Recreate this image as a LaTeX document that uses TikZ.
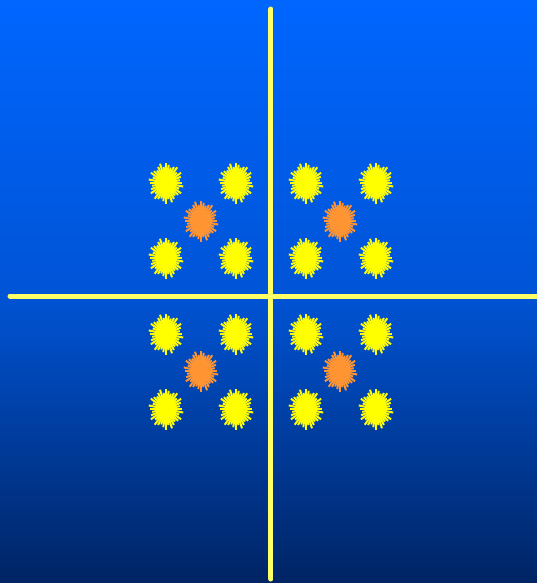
\documentclass[tikz,border=0pt]{standalone}
\usepackage{tikz}
\usepackage{xcolor}
\definecolor{bgtop}{RGB}{0, 102, 255}
\definecolor{bgmid}{RGB}{0, 84, 214}
\definecolor{bgbot}{RGB}{0, 36, 100}
\definecolor{axisyellow}{RGB}{255, 255, 102}
\definecolor{dotyellow}{RGB}{255, 255, 0}
\definecolor{dotorange}{RGB}{255, 148, 51}
\usetikzlibrary{calc}

\begin{document}
\begin{tikzpicture}[
    x=0.02cm, y=-0.02cm,
    axis/.style={line width=0.1cm, axisyellow, line cap=round},
    burst/.pic={
        \fill (0,0) ellipse (10 and 12.5);
        \foreach \a [count=\i] in {0,10,...,350} {
            \pgfmathsetmacro{\r}{mod(\i,3)==0 ? 0.8 : (mod(\i,2)==0 ? 1.0 : 0.9)}
            \draw[line width=0.04cm] (0,0) -- ({17.5*\r*cos(\a)},{20.5*\r*sin(\a)});
        }
    }
]

% Hintergrund
\shade[top color=bgtop, bottom color=bgbot, middle color=bgmid]
    (0,0) rectangle (537,583);
\useasboundingbox (0,0) rectangle (537,583);

% Achsen
\coordinate (top) at (271,9);
\coordinate (bottom) at (271,579);
\coordinate (left) at (10,296);
\coordinate (right) at (540,296);
\draw[axis] (top) -- (bottom);
\draw[axis] (left) -- (right);

% gelbe Punkte
\foreach \x in {166,236,306,376} {
    \foreach \y in {183,258,334,409} {
        \pic[dotyellow, fill=dotyellow] at (\x,\y) {burst};
    }
}

% orange Punkte
\foreach \x/\y in {201/221, 340/221, 201/371, 340/371} {
    \pic[dotorange, fill=dotorange] at (\x,\y) {burst};
}

\end{tikzpicture}
\end{document}
